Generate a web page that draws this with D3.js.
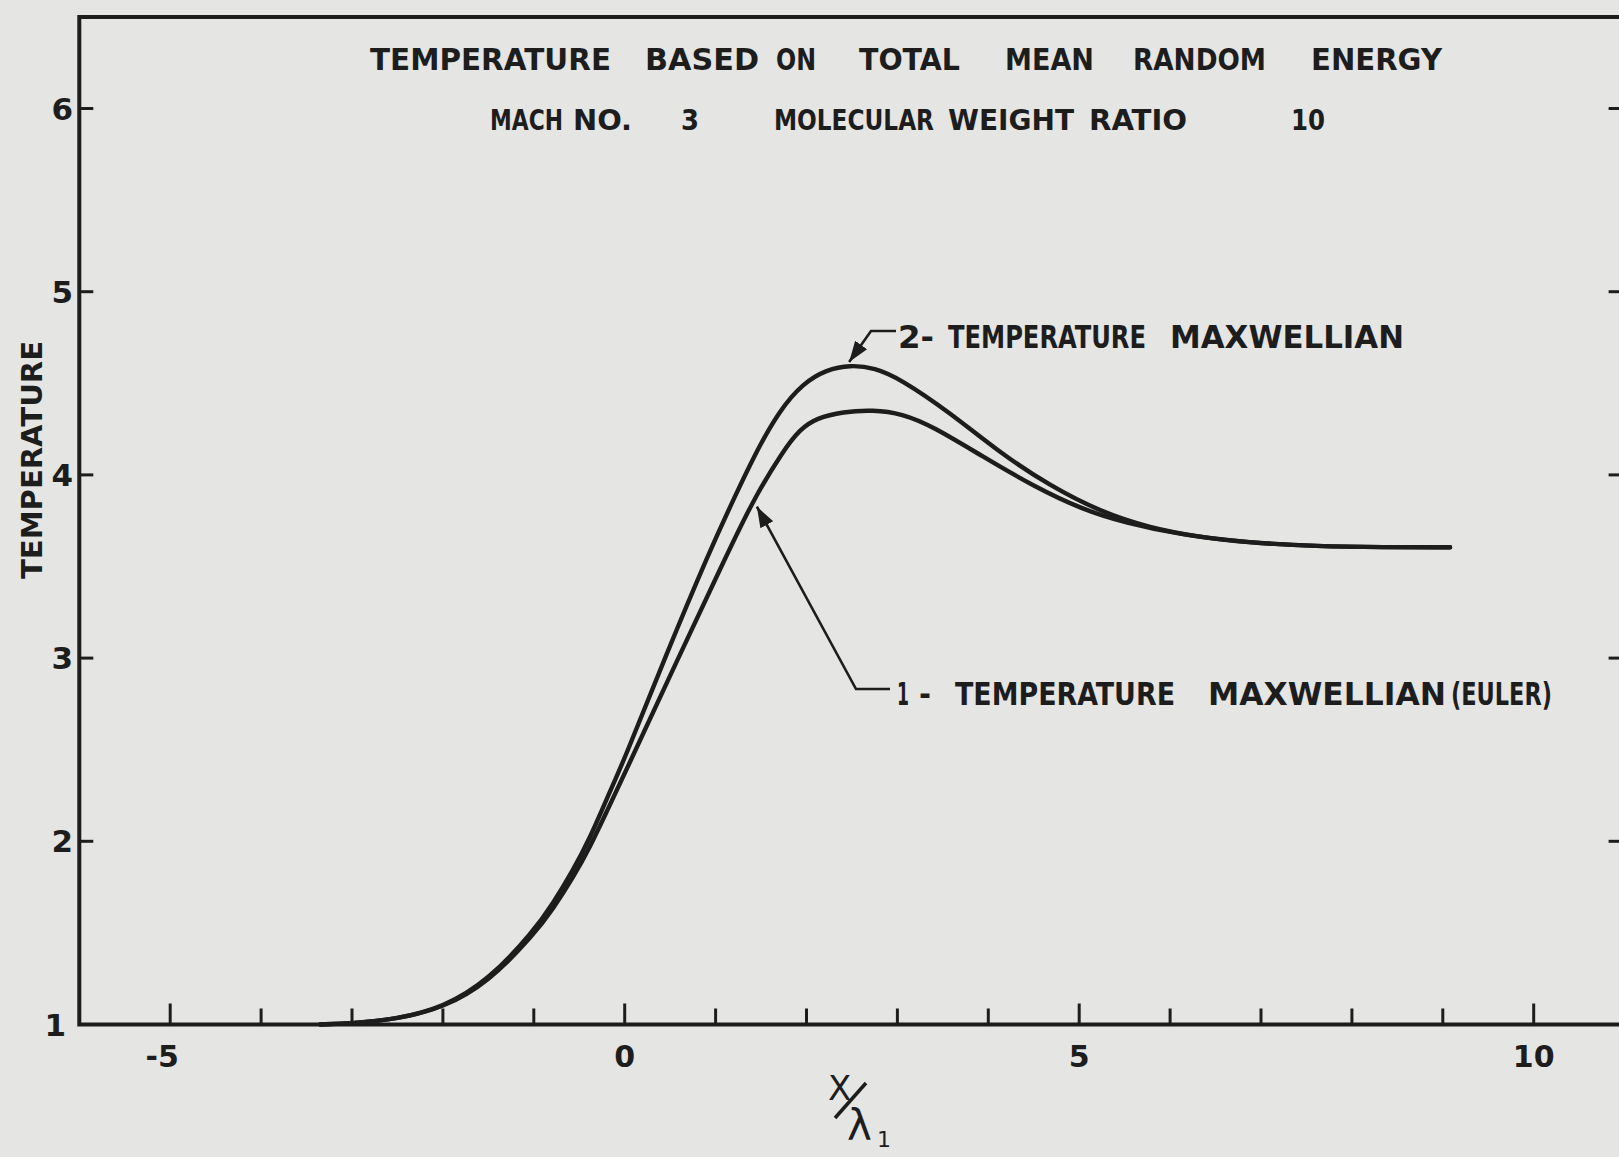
<!DOCTYPE html>
<html>
<head>
<meta charset="utf-8">
<script src="https://cdn.jsdelivr.net/npm/d3@7"></script>
<style>
  html, body { margin: 0; padding: 0; background: #e5e5e3; }
  svg { display: block; }
</style>
</head>
<body>
<svg id="chart"></svg>
<script>
// x / lambda_1 positions and temperatures
const eulerX = [-3.35, -3.0, -2.5, -2.0, -1.5, -1.0, -0.79, -0.57, -0.38, -0.2, 0.0, 0.57, 1.12, 1.41, 1.74, 1.93, 2.11, 2.4, 2.73, 3.05, 3.39, 3.94, 4.49, 5.04, 5.5, 6.14, 6.87, 7.61, 8.34, 9.08];
const eulerT = [1.0, 1.006, 1.03, 1.09, 1.23, 1.49, 1.63, 1.8, 1.97, 2.16, 2.37, 2.98, 3.56, 3.86, 4.13, 4.25, 4.31, 4.345, 4.355, 4.335, 4.265, 4.1, 3.94, 3.81, 3.74, 3.67, 3.63, 3.61, 3.605, 3.605];

const twoTempX = [-3.35, -3.0, -2.5, -2.0, -1.5, -1.0, -0.79, -0.57, -0.38, -0.2, 0.0, 0.44, 0.93, 1.21, 1.45, 1.7, 1.96, 2.22, 2.48, 2.75, 3.03, 3.58, 4.13, 4.68, 5.23, 5.78, 6.33, 6.87, 7.61, 8.34, 9.08];
const twoTempT = [1.0, 1.006, 1.03, 1.092, 1.24, 1.51, 1.66, 1.84, 2.02, 2.23, 2.45, 3.0, 3.58, 3.88, 4.13, 4.35, 4.5, 4.575, 4.6, 4.585, 4.525, 4.34, 4.12, 3.94, 3.8, 3.71, 3.66, 3.63, 3.61, 3.605, 3.605];

const xMinorTicks = [-5, -4, -3, -2, -1, 0, 1, 2, 3, 4, 5, 6, 7, 8, 9, 10];
const xMajorTicks = [-5, 0, 5, 10];
const xTickLabels = ["-5", "0", "5", "10"];
const yTicks = [1, 2, 3, 4, 5, 6];
const yTickLabels = ["1", "2", "3", "4", "5", "6"];

const width = 1619;
const height = 1157;
const ink = "#1d1d1d";

const svg = d3.select("#chart").attr("width", width).attr("height", height);

svg.append("rect").attr("width", width).attr("height", height).attr("fill", "#e5e5e3");

const x = d3.scaleLinear().domain([-6, 11]).range([79.3, 1624.6]);
const y = d3.scaleLinear().domain([1, 6.5]).range([1024.5, 16.9]);

// frame: left axis, top line, bottom axis, right axis (just off the sheet)
svg
  .append("path")
  .attr("d", `M${x(11)},${y(6.5)} L${x(-6)},${y(6.5)} L${x(-6)},${y(1)} L${x(11)},${y(1)} Z`)
  .attr("fill", "none")
  .attr("stroke", ink)
  .attr("stroke-width", 4);

// x ticks point up into the plot
svg
  .selectAll(".xminor")
  .data(xMinorTicks)
  .join("line")
  .attr("x1", (d) => x(d))
  .attr("x2", (d) => x(d))
  .attr("y1", y(1))
  .attr("y2", (d) => (xMajorTicks.includes(d) ? y(1) - 21 : y(1) - 16))
  .attr("stroke", ink)
  .attr("stroke-width", 3);

svg
  .selectAll(".xlab")
  .data(xMajorTicks)
  .join("text")
  .attr("x", (d) => x(d) + (d < 0 ? -8 : 0))
  .attr("y", y(1) + 42)
  .attr("text-anchor", "middle")
  .attr("font-family", "DejaVu Sans")
  .attr("font-weight", "bold")
  .attr("font-size", 30)
  .attr("fill", ink)
  .text((d, i) => xTickLabels[i]);

// y ticks, left side (into the plot) and right side
const yInner = yTicks.filter((d) => d > 1);
svg
  .selectAll(".yl")
  .data(yInner)
  .join("line")
  .attr("x1", x(-6))
  .attr("x2", x(-6) + 14)
  .attr("y1", (d) => y(d))
  .attr("y2", (d) => y(d))
  .attr("stroke", ink)
  .attr("stroke-width", 3);

svg
  .selectAll(".yr")
  .data(yInner)
  .join("line")
  .attr("x1", x(11))
  .attr("x2", x(11) - 16)
  .attr("y1", (d) => y(d))
  .attr("y2", (d) => y(d))
  .attr("stroke", ink)
  .attr("stroke-width", 3);

svg
  .selectAll(".ylab")
  .data(yTicks)
  .join("text")
  .attr("x", (d) => (d === 1 ? 66 : 73))
  .attr("y", (d) => y(d) + 11)
  .attr("text-anchor", "end")
  .attr("font-family", "DejaVu Sans")
  .attr("font-weight", "bold")
  .attr("font-size", 31)
  .attr("fill", ink)
  .text((d, i) => yTickLabels[i]);

// axis titles
svg
  .append("text")
  .attr("transform", "translate(42,460) rotate(-90)")
  .attr("text-anchor", "middle")
  .attr("font-family", "DejaVu Sans")
  .attr("font-weight", "bold")
  .attr("font-size", 29)
  .attr("textLength", 238)
  .attr("lengthAdjust", "spacingAndGlyphs")
  .attr("fill", ink)
  .text("TEMPERATURE");

const xTitle = svg.append("g").attr("fill", ink).attr("font-family", "DejaVu Sans");
xTitle.append("text").attr("x", 828).attr("y", 1100).attr("font-size", 34).text("X");
xTitle
  .append("line")
  .attr("x1", 835)
  .attr("y1", 1118)
  .attr("x2", 866)
  .attr("y2", 1083)
  .attr("stroke", ink)
  .attr("stroke-width", 3.5);
xTitle.append("text").attr("x", 847).attr("y", 1140).attr("font-size", 42).text("λ");
xTitle.append("text").attr("x", 877).attr("y", 1147).attr("font-size", 22).text("1");

// word-by-word lettering, each word stretched to its measured span
const letter = (words, baseline, size, family) => {
  words.forEach((w) => {
    svg
      .append("text")
      .attr("x", w[1])
      .attr("y", baseline)
      .attr("font-family", family)
      .attr("font-weight", "bold")
      .attr("font-size", size)
      .attr("textLength", w[2] - w[1])
      .attr("lengthAdjust", "spacingAndGlyphs")
      .attr("fill", ink)
      .text(w[0]);
  });
};

letter(
  [
    ["TEMPERATURE", 370, 611],
    ["BASED", 645, 759],
    ["ON", 776, 816],
    ["TOTAL", 859, 960],
    ["MEAN", 1005, 1094],
    ["RANDOM", 1133, 1266],
    ["ENERGY", 1311, 1442],
  ],
  70,
  30,
  "DejaVu Sans"
);

letter(
  [
    ["MACH", 490, 563],
    ["NO.", 573, 632],
    ["3", 681, 699],
    ["MOLECULAR", 774, 934],
    ["WEIGHT", 948, 1074],
    ["RATIO", 1089, 1187],
    ["10", 1291, 1325],
  ],
  130,
  29,
  "DejaVu Sans Condensed, DejaVu Sans"
);

letter(
  [
    ["2-", 898, 934],
    ["TEMPERATURE", 948, 1146],
    ["MAXWELLIAN", 1170, 1404],
  ],
  348,
  32,
  "DejaVu Sans Condensed, DejaVu Sans"
);

letter(
  [
    ["1", 897, 909],
    ["-", 919, 931],
    ["TEMPERATURE", 955, 1175],
    ["MAXWELLIAN", 1208, 1446],
    ["(EULER)", 1451, 1552],
  ],
  705,
  32,
  "DejaVu Sans Condensed, DejaVu Sans"
);

// curves, smoothed like a french-curve drawing
const line = d3
  .line()
  .x((d) => x(d[0]))
  .y((d) => y(d[1]))
  .curve(d3.curveBasis);

const eulerData = eulerX.map((v, i) => [v, eulerT[i]]);
const twoTempData = twoTempX.map((v, i) => [v, twoTempT[i]]);

[eulerData, twoTempData].forEach((data) => {
  svg
    .append("path")
    .datum(data)
    .attr("d", line)
    .attr("fill", "none")
    .attr("stroke", ink)
    .attr("stroke-width", 4.4)
    .attr("stroke-linecap", "round");
});

// leaders with arrowheads
svg
  .append("defs")
  .append("marker")
  .attr("id", "arrow")
  .attr("viewBox", "0 0 10 10")
  .attr("refX", 10)
  .attr("refY", 5)
  .attr("markerWidth", 8)
  .attr("markerHeight", 8)
  .attr("markerUnits", "strokeWidth")
  .attr("orient", "auto")
  .append("path")
  .attr("d", "M0,1.5 L10,5 L0,8.5 Z")
  .attr("fill", ink);

const leader = (pts) => {
  svg
    .append("path")
    .attr("d", d3.line()(pts))
    .attr("fill", "none")
    .attr("stroke", ink)
    .attr("stroke-width", 2.6)
    .attr("marker-end", "url(#arrow)");
};

const peak2 = twoTempData[18];
leader([
  [896, 331],
  [871, 331],
  [x(peak2[0]) - 1, y(peak2[1]) - 3],
]);

const hit1 = eulerData[13];
leader([
  [890, 689],
  [856, 689],
  [x(hit1[0]) + 4, y(hit1[1]) + 6],
]);
</script>
</body>
</html>
